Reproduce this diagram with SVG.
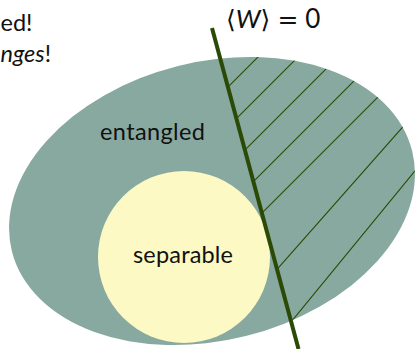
<svg xmlns="http://www.w3.org/2000/svg" width="415" height="349" viewBox="0 0 415 349">
<style>
text{font-family:Lato,"Noto Sans","DejaVu Sans",sans-serif;fill:#111;}
.lbl{font-size:23.5px;}
.hatch{stroke:#2b4a06;stroke-width:1.1;fill:none;}
</style>
<defs>
<clipPath id="ellClip"><ellipse cx="212" cy="201" rx="206.3" ry="139.2" transform="rotate(-14.07 212 201)"/></clipPath>
<clipPath id="rightClip"><polygon points="204.5,0 415,0 415,349 298,349"/></clipPath>
</defs>
<g id="entangled">
<ellipse cx="212" cy="201" rx="206.3" ry="139.2" transform="rotate(-14.07 212 201)" fill="#88a9a0"/>
<text class="lbl" x="100" y="140" textLength="105">entangled</text>
</g>
<g id="separable">
<circle cx="184" cy="257" r="86" fill="#fcf9c4"/>
<text class="lbl" x="133" y="263" textLength="100">separable</text>
</g>
<g id="witness-region" clip-path="url(#ellClip)">
<g clip-path="url(#rightClip)">
<path class="hatch" d="M0,275 L275,0 M0,315 L315,0 M0,355 L355,0 M0,395 L395,0 M0,435 L435,0 M0,475 L475,0 M60,515 L515,0 M100,555 L555,0 M140,595 L595,0 M180,635 L635,0 M220,675 L675,0 M260,715 L715,0 M300,755 L755,0"/>
</g>
</g>
<g id="connectors">
<line x1="212" y1="28" x2="298.5" y2="349" stroke="#2b4a06" stroke-width="4"/>
</g>
<g id="witness-label">
<text x="226" y="28" font-size="26"><tspan font-family="DejaVu Sans" font-size="25">⟨</tspan><tspan font-style="italic">W</tspan><tspan font-family="DejaVu Sans" font-size="25">⟩</tspan><tspan dx="7" font-family="DejaVu Sans" font-size="25">=</tspan><tspan dx="7">0</tspan></text>
</g>
<g id="caption">
<text class="lbl" x="0.5" y="31">ed!</text>
<text class="lbl" x="0.5" y="62"><tspan font-style="italic">nges</tspan>!</text>
</g>
</svg>
